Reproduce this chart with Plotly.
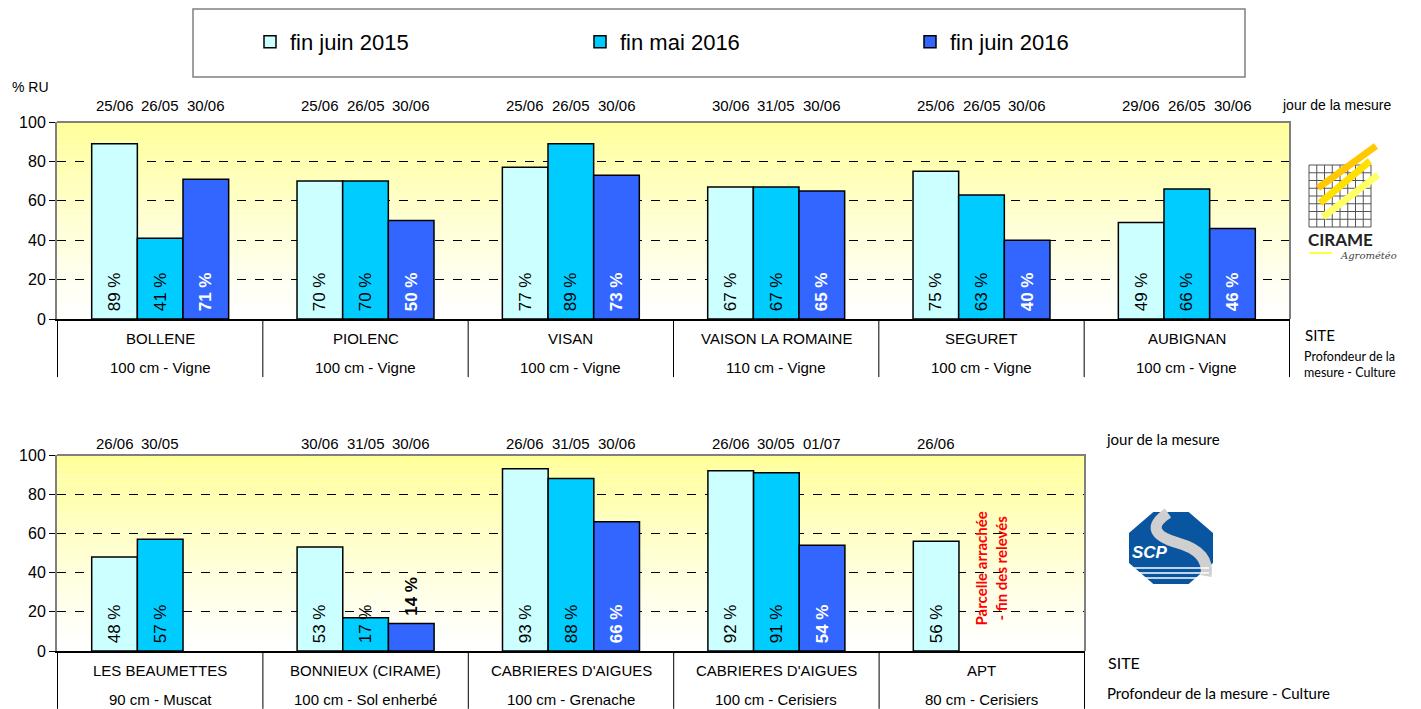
import plotly.graph_objects as go

W, H = 1421, 709
ML, MR = 57, 131
PW = W - ML - MR

# ---------------- data ----------------
series = ["fin juin 2015", "fin mai 2016", "fin juin 2016"]
colors = ["#CCFFFF", "#00CCFF", "#3366FF"]

top_sites = ["BOLLENE", "PIOLENC", "VISAN", "VAISON LA ROMAINE", "SEGURET", "AUBIGNAN"]
top_depths = ["100 cm - Vigne"] * 3 + ["110 cm - Vigne"] + ["100 cm - Vigne"] * 2
top_juin2015 = [89, 70, 77, 67, 75, 49]
top_mai2016 = [41, 70, 89, 67, 63, 66]
top_juin2016 = [71, 50, 73, 65, 40, 46]
top_dates = [["25/06", "26/05", "30/06"], ["25/06", "26/05", "30/06"], ["25/06", "26/05", "30/06"],
             ["30/06", "31/05", "30/06"], ["25/06", "26/05", "30/06"], ["29/06", "26/05", "30/06"]]

bot_sites = ["LES BEAUMETTES", "BONNIEUX (CIRAME)", "CABRIERES D'AIGUES", "CABRIERES D'AIGUES", "APT"]
bot_depths = ["90 cm - Muscat", "100 cm - Sol enherbé", "100 cm - Grenache",
              "100 cm - Cerisiers", "80 cm - Cerisiers"]
bot_juin2015 = [48, 53, 93, 92, 56]
bot_mai2016 = [57, 17, 88, 91, None]
bot_juin2016 = [None, 14, 66, 54, None]
bot_dates = [["26/06", "30/05", ""], ["30/06", "31/05", "30/06"], ["26/06", "31/05", "30/06"],
             ["26/06", "30/05", "01/07"], ["26/06", "", ""]]

FONT = "Liberation Sans, Arial, sans-serif"
CAL = "Lato, Open Sans, sans-serif"
NB = "\u00a0"


def px(x):
    return (x - ML) / PW


def py(y):
    return 1 - y / H


fig = go.Figure()

panels = [
    dict(sites=top_sites, depths=top_depths, vals=[top_juin2015, top_mai2016, top_juin2016],
         dates=top_dates, xa="x", ya="y", leg=True),
    dict(sites=bot_sites, depths=bot_depths, vals=[bot_juin2015, bot_mai2016, bot_juin2016],
         dates=bot_dates, xa="x2", ya="y2", leg=False),
]

for p in panels:
    keys = [f"{s} | {d}" for s, d in zip(p["sites"], p["depths"])]
    p["keys"] = keys
    for k, (name, col, vals) in enumerate(zip(series, colors, p["vals"])):
        texts, tcols, tpos = [], [], []
        for v in vals:
            if v is None:
                texts.append("")
                tcols.append("black")
                tpos.append("inside")
                continue
            if k == 2:
                texts.append(f"{NB}<b>{v} %</b>")
                if v < 20:
                    tcols.append("black")
                    tpos.append("outside")
                else:
                    tcols.append("white")
                    tpos.append("inside")
            else:
                texts.append(f"{NB}{v} %")
                tcols.append("black")
                tpos.append("inside")
        fig.add_trace(go.Bar(
            x=keys, y=vals, name=name, legendgroup=name, showlegend=p["leg"],
            marker=dict(color=col, line=dict(color="black", width=1.5)),
            text=texts, textposition=tpos, textangle=-90, insidetextanchor="start",
            constraintext="none", cliponaxis=False,
            textfont=dict(family=FONT, size=17, color=tcols),
            xaxis=p["xa"], yaxis=p["ya"], hoverinfo="skip",
        ))

# ---------------- layout ----------------
top_dom = [py(319), py(122)]
bot_dom = [py(651), py(455)]
bot_xdom = [0, (1085 - ML) / PW]

axis_common = dict(showgrid=False, zeroline=False, showticklabels=False, ticks="",
                   showline=True, linecolor="black", linewidth=1.5, fixedrange=True,
                   automargin=False)
yaxis_common = dict(range=[0, 100], tickvals=[0, 20, 40, 60, 80, 100], ticks="outside",
                    ticklen=6, tickcolor="black", tickfont=dict(family=FONT, size=16, color="black"),
                    showgrid=True, gridcolor="black", griddash="dash", gridwidth=1,
                    zeroline=False, showline=True, linecolor="#808080", linewidth=2,
                    fixedrange=True, automargin=False)

fig.update_layout(
    width=W, height=H, margin=dict(l=ML, r=MR, t=0, b=0, pad=0, autoexpand=False),
    paper_bgcolor="white", plot_bgcolor="white",
    barmode="group", bargap=0.333, bargroupgap=0,
    xaxis=dict(domain=[0, 1], anchor="y", categoryorder="array",
               categoryarray=panels[0]["keys"], **axis_common),
    yaxis=dict(domain=top_dom, anchor="x", **yaxis_common),
    xaxis2=dict(domain=bot_xdom, anchor="y2", categoryorder="array",
                categoryarray=panels[1]["keys"], **axis_common),
    yaxis2=dict(domain=bot_dom, anchor="x2", **yaxis_common),
    legend=dict(orientation="h", x=px(250), xanchor="left", y=py(42), yanchor="middle",
                entrywidth=285, entrywidthmode="pixels", itemwidth=30,
                font=dict(family=FONT, size=22, color="black"),
                bgcolor="rgba(0,0,0,0)", borderwidth=0, traceorder="normal"),
    font=dict(family=FONT, color="black"),
)

shapes = []
annotations = []

# legend frame
shapes.append(dict(type="rect", xref="paper", yref="paper", x0=px(193), x1=px(1245),
                   y0=py(77), y1=py(9), line=dict(color="#808080", width=1.5),
                   fillcolor="rgba(0,0,0,0)"))

# gradient backgrounds + borders
N = 40
for p in panels:
    xd = p["xa"] + " domain"
    yd = p["ya"] + " domain"
    for i in range(N):
        t = (i + 0.5) / N  # 0 bottom -> 1 top
        b = int(round(255 - (255 - 150) * t ** 1.2))
        shapes.append(dict(type="rect", xref=xd, yref=yd, x0=0, x1=1, y0=i / N, y1=(i + 1) / N,
                           line=dict(width=0), fillcolor=f"rgb(255,255,{b})", layer="below"))
    shapes.append(dict(type="path", xref=xd, yref=yd, path="M 0,1 L 1,1 L 1,0",
                       line=dict(color="#808080", width=2), layer="above"))
    n = len(p["keys"])
    depth = -0.295
    for i in range(n + 1):
        shapes.append(dict(type="line", xref=p["xa"], yref=yd, x0=i - 0.5, x1=i - 0.5,
                           y0=0, y1=depth, line=dict(color="black", width=1)))
    # category labels & dates
    off = 45.67
    for key, site, dep, dts in zip(p["keys"], p["sites"], p["depths"], p["dates"]):
        annotations.append(dict(x=key, xref=p["xa"], y=0, yref=yd, yshift=-19, text=site,
                                showarrow=False, font=dict(family=FONT, size=15, color="black"),
                                xanchor="center", yanchor="middle"))
        annotations.append(dict(x=key, xref=p["xa"], y=0, yref=yd, yshift=-48, text=dep,
                                showarrow=False, font=dict(family=FONT, size=15, color="black"),
                                xanchor="center", yanchor="middle"))
        for k, d in enumerate(dts):
            if d:
                annotations.append(dict(x=key, xref=p["xa"], y=1, yref=yd,
                                        yshift=16 if p["leg"] else 12,
                                        xshift=(k - 1) * off, text=d, showarrow=False,
                                        font=dict(family=FONT, size=15, color="black"),
                                        xanchor="center", yanchor="middle"))

# APT note
annotations.append(dict(x=panels[1]["keys"][4], xref="x2", y=42, yref="y2", xshift=9,
                        text="Parcelle arrachée<br>- fin des relevés", textangle=-90,
                        showarrow=False, xanchor="center", yanchor="middle",
                        font=dict(family=CAL, size=15, color="#FF0000", weight="bold"),
                        align="center"))

# side texts
annotations += [
    dict(x=px(10), y=py(87), xref="paper", yref="paper", text="% RU", showarrow=False,
         xanchor="left", yanchor="middle", font=dict(family=FONT, size=14)),
    dict(x=px(1280), y=py(105), xref="paper", yref="paper", text="jour de la mesure",
         showarrow=False, xanchor="left", yanchor="middle", font=dict(family=FONT, size=14)),
    dict(x=px(1303), y=py(335), xref="paper", yref="paper", text="SITE", showarrow=False,
         xanchor="left", yanchor="middle", font=dict(family=CAL, size=15)),
    dict(x=px(1302), y=py(364), xref="paper", yref="paper",
         text="Profondeur de la<br>mesure - Culture", showarrow=False, xanchor="left",
         yanchor="middle", align="left", font=dict(family=CAL, size=12.5)),
    dict(x=px(1104), y=py(439), xref="paper", yref="paper", text="jour de la mesure",
         showarrow=False, xanchor="left", yanchor="middle", font=dict(family=CAL, size=15)),
    dict(x=px(1106), y=py(662), xref="paper", yref="paper", text="SITE", showarrow=False,
         xanchor="left", yanchor="middle", font=dict(family=CAL, size=16)),
    dict(x=px(1105), y=py(693), xref="paper", yref="paper",
         text="Profondeur de la mesure - Culture", showarrow=False, xanchor="left",
         yanchor="middle", font=dict(family=CAL, size=15)),
]

# CIRAME logo (decorative)
gx0, gx1, gy0, gy1 = 1309, 1371, 165, 227
for i in range(9):
    xx = gx0 + (gx1 - gx0) * i / 8
    yy = gy0 + (gy1 - gy0) * i / 8
    shapes.append(dict(type="line", xref="paper", yref="paper", x0=px(xx), x1=px(xx),
                       y0=py(gy0), y1=py(gy1), line=dict(color="#555555", width=1)))
    shapes.append(dict(type="line", xref="paper", yref="paper", x0=px(gx0), x1=px(gx1),
                       y0=py(yy), y1=py(yy), line=dict(color="#555555", width=1)))
for (x0, y0, x1, y1, c) in [(1318, 188, 1376, 146, "#FFC800"), (1320, 203, 1370, 161, "#FFE000"),
                            (1323, 217, 1378, 175, "#FFFF66")]:
    shapes.append(dict(type="line", xref="paper", yref="paper", x0=px(x0), y0=py(y0),
                       x1=px(x1), y1=py(y1), line=dict(color=c, width=7)))
shapes.append(dict(type="line", xref="paper", yref="paper", x0=px(1309), x1=px(1332),
                   y0=py(253), y1=py(253), line=dict(color="#FFFF44", width=2)))
annotations += [
    dict(x=px(1340), y=py(240), xref="paper", yref="paper", text="<b>CIRAME</b>",
         showarrow=False, xanchor="center", yanchor="middle",
         font=dict(family=CAL, size=17, color="#222222")),
    dict(x=px(1368), y=py(255), xref="paper", yref="paper", text="<i>Agrométéo</i>",
         showarrow=False, xanchor="center", yanchor="middle",
         font=dict(family="DejaVu Serif", size=10, color="#444444")),
]

# SCP logo (decorative)
cx, cy, rw, rh = 1171, 548, 42, 36
a = 0.42
octa = [(cx - rw * a, cy - rh), (cx + rw * a, cy - rh), (cx + rw, cy - rh * a), (cx + rw, cy + rh * a),
        (cx + rw * a, cy + rh), (cx - rw * a, cy + rh), (cx - rw, cy + rh * a), (cx - rw, cy - rh * a)]
path = "M " + " L ".join(f"{px(x):.5f},{py(y):.5f}" for x, y in octa) + " Z"
shapes.append(dict(type="path", xref="paper", yref="paper", path=path,
                   fillcolor="#0A55A0", line=dict(width=0)))
sp = (f"M {px(1168):.5f},{py(513):.5f} Q {px(1140):.5f},{py(532):.5f} {px(1178):.5f},{py(543):.5f} "
      f"Q {px(1210):.5f},{py(552):.5f} {px(1206):.5f},{py(576):.5f}")
shapes.append(dict(type="path", xref="paper", yref="paper", path=sp,
                   line=dict(color="#CFCFCF", width=11)))
for yy in [568, 573, 578]:
    shapes.append(dict(type="line", xref="paper", yref="paper", x0=px(1133), x1=px(1209),
                       y0=py(yy), y1=py(yy), line=dict(color="#FFFFFF", width=1.5)))
annotations.append(dict(x=px(1150), y=py(552), xref="paper", yref="paper",
                        text="<b><i>SCP</i></b>", showarrow=False,
                        xanchor="center", yanchor="middle",
                        font=dict(family=FONT, size=17, color="white")))

fig.update_layout(shapes=shapes, annotations=annotations)
fig.write_html("out.html", config={"displayModeBar": False},
               post_script="document.body.style.margin='0';document.body.style.overflow='hidden';")
